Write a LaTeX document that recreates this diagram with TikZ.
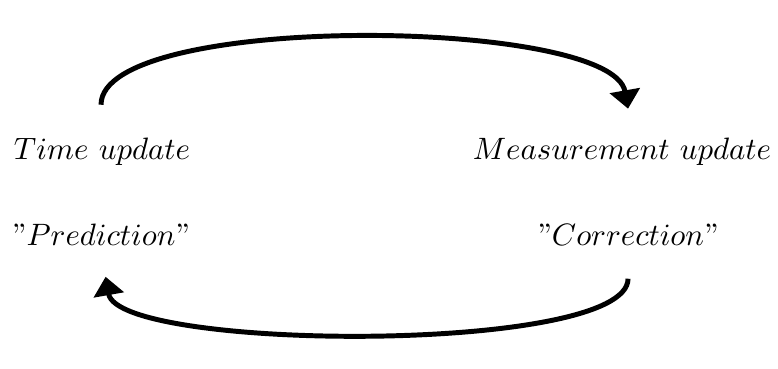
\documentclass[tikz,border=0pt]{standalone}
\usepackage{amsmath}
\usepackage{tikz}
\usetikzlibrary{arrows.meta}

\begin{document}
\begin{tikzpicture}[>={Triangle[length=2.1mm,width=3.4mm]},
lab/.style={font=\normalsize,inner sep=1pt},
loop/.style={->,line width=1.6pt}]
\useasboundingbox (0,0) rectangle (8.84,4.19);
\node[lab] (time) at (1.16,2.466) {$Time\ update$};
\node[lab] (pred) at (1.148,1.523) {"$Prediction$"};
\node[lab] (meas) at (7.068,2.466) {$Measurement\ update$};
\node[lab] (corr) at (7.136,1.523) {"$Correction$"};
\coordinate (t0) at (1.148,3.0);
\coordinate (t1) at (7.136,2.955);
\coordinate (b0) at (7.136,1.023);
\coordinate (b1) at (1.2,1.045);
\draw[loop] (t0) to[out=90,in=100,looseness=0.45] (t1);
\draw[loop] (b0) to[out=-90,in=-80,looseness=0.37] (b1);
\end{tikzpicture}
\end{document}
